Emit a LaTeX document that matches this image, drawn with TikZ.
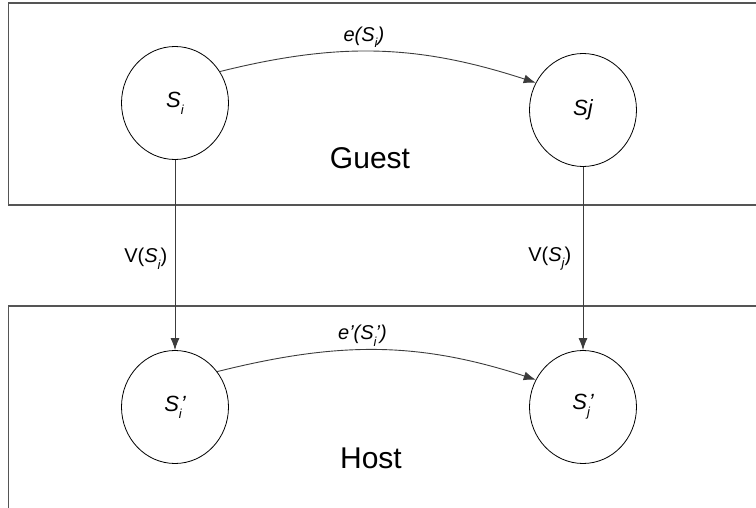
\documentclass[tikz,border=0pt]{standalone}
\usepackage{fontspec}
\setmainfont{Liberation Sans}
\usetikzlibrary{arrows.meta,shapes.geometric}
\definecolor{framecol}{RGB}{85,85,85}
\definecolor{arrowcol}{RGB}{60,60,60}
\newcommand{\lsub}[1]{\raisebox{-0.32em}{\fontsize{13}{14}\selectfont\itshape #1}}

\begin{document}
\begin{tikzpicture}[
    x=1pt, y=1pt,
    >={Latex[length=12pt,width=9pt]},
    frame/.style={draw=framecol, line width=1.6pt},
    state/.style={draw, ellipse, minimum width=107pt, minimum height=113pt, line width=0.8pt,
                  font=\fontsize{22}{26}\selectfont\itshape},
    arr/.style={->, draw=arrowcol, line width=0.9pt},
    elabel/.style={font=\fontsize{20}{24}\selectfont\itshape, inner sep=3pt},
    vlabel/.style={font=\fontsize{20}{24}\selectfont},
    big/.style={font=\fontsize{30}{36}\selectfont},
]
\useasboundingbox (0,0) rectangle (756,507);
\clip (0,0) rectangle (756,507);

% ============ GUEST AND HOST FRAMES ============
\draw[frame] (8.5,504) rectangle (780,302);
\draw[frame] (8.5,201) rectangle (780,-20);
\node[big] (guest) at (370,349) {Guest};
\node[big] (host) at (371,49) {Host};

% ============ STATES ============
\node[state] (si)  at (175,404) {S\lsub{i}};
\node[state] (sj)  at (583,397) {Sj};
\node[state] (sip) at (175,100) {S\lsub{i}\kern-0.05em'};
\node[state] (sjp) at (583,100) {S\lsub{j}\kern-0.05em'};

% ============ TRANSITIONS ============
\draw[arr] (si.35) to[out=14, in=162]
    node[elabel, above, pos=0.45] {e(S\lsub{i})} (sj.150);
\draw[arr] (sip.40) to[out=14, in=162]
    node[elabel, above, pos=0.45] {e'(S\lsub{i}\kern-0.05em')} (sjp.150);

% ============ MAPPINGS V ============
\draw[arr] (si) -- node[vlabel, left, pos=0.52, xshift=-4pt] {V(\textit{S}\lsub{i})} (sip);
\draw[arr] (sj) -- node[vlabel, left, pos=0.50, xshift=-8pt] {V(\textit{S}\lsub{j})} (sjp);

\end{tikzpicture}
\end{document}
